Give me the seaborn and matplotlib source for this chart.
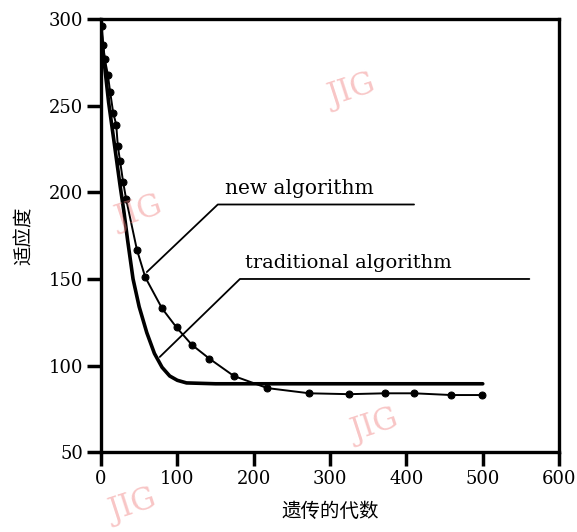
import numpy as np
import pandas as pd
import matplotlib
matplotlib.use("Agg")
import matplotlib.pyplot as plt
import seaborn as sns

# values
trad_gen = [0, 5, 10, 15, 20, 25, 30, 35, 42, 50, 60, 70, 80, 90, 100, 112, 150, 500]
trad_fit = [292, 272, 252, 236, 220, 204, 189, 172, 150, 134, 119, 107, 99, 94, 91.5, 90, 89.5, 89.5]

new_gen = [1, 3, 5, 9, 12, 16, 20, 22, 25, 29, 33, 47, 58, 80, 99, 119, 142, 174, 218,
           273, 325, 372, 410, 459, 499]
new_fit = [296, 285, 277, 268, 258, 246, 239, 227, 218, 206, 196, 167, 151, 133, 122, 112,
           104, 94, 87, 84, 83.5, 84, 84, 83, 83]

x_ticks = [0, 100, 200, 300, 400, 500, 600]
y_ticks = [50, 100, 150, 200, 250, 300]

sns.set_style("white")
plt.rcParams['font.family'] = ['DejaVu Serif', 'Noto Sans CJK SC', 'DejaVu Sans']
plt.rcParams['text.color'] = 'black'
plt.rcParams['axes.labelcolor'] = 'black'

fig = plt.figure(figsize=(5.77, 5.32), dpi=100)
ax = fig.add_axes([0.175, 0.150, 0.794, 0.814])

trad = pd.DataFrame({'gen': trad_gen, 'fit': trad_fit})
new = pd.DataFrame({'gen': new_gen, 'fit': new_fit})

sns.lineplot(data=trad, x='gen', y='fit', color='black', linewidth=2.6, ax=ax)
sns.lineplot(data=new, x='gen', y='fit', color='black', linewidth=1.4,
             marker='o', markersize=5, markeredgecolor='black', ax=ax)

# leader lines for the two annotations
ax.plot([60, 153, 410], [154, 193, 193], color='black', linewidth=1.3)
ax.plot([77, 182, 561], [105, 150, 150], color='black', linewidth=1.3)
ax.text(162, 197, 'new algorithm', fontsize=14.5, ha='left', va='bottom')
ax.text(188, 154, 'traditional algorithm', fontsize=14, ha='left', va='bottom')

ax.set_xlim(0, 600)
ax.set_ylim(50, 300)
ax.set_xticks(x_ticks)
ax.set_yticks(y_ticks)
ax.tick_params(axis='both', direction='out', length=10, width=2.5, labelsize=13,
               pad=3, bottom=True, left=True, colors='black')
for s in ax.spines.values():
    s.set_linewidth(2.4)
    s.set_color('black')

ax.set_xlabel('遗传的代数', fontsize=14, family=['Noto Sans CJK SC', 'DejaVu Sans'], labelpad=9)
ax.set_ylabel('适应度', fontsize=14, family=['Noto Sans CJK SC', 'DejaVu Sans'], labelpad=10)

# faint watermarks that appear on the scan
for wx, wy in [(0.61, 0.83), (0.24, 0.60), (0.65, 0.20), (0.23, 0.05)]:
    fig.text(wx, wy, 'JIG', fontsize=22, color='#f08080', alpha=0.45, rotation=18,
             ha='center', va='center')

fig.savefig('out.png', dpi=100)
